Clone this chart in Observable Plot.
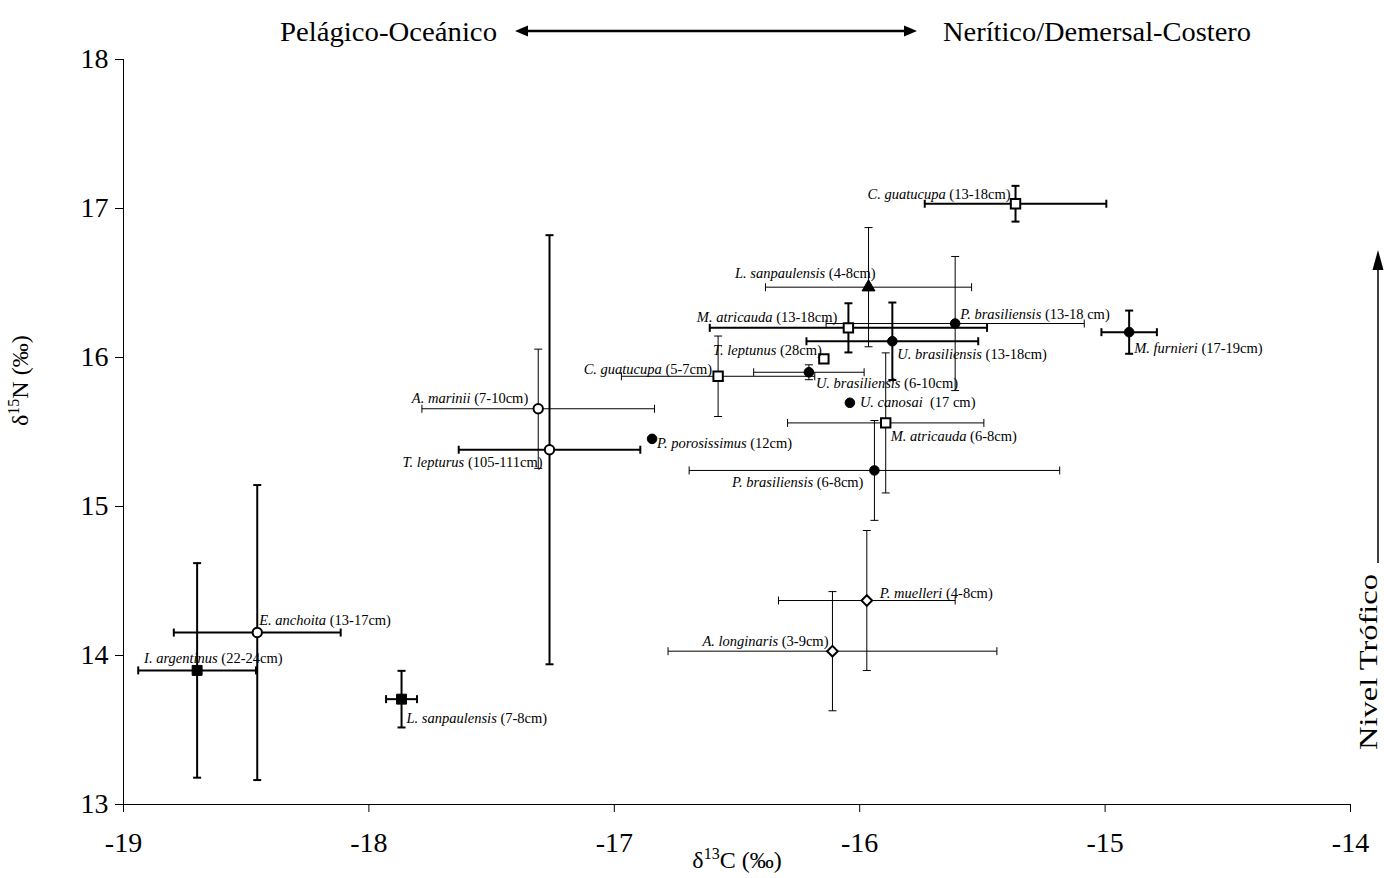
<!DOCTYPE html>
<html><head><meta charset="utf-8">
<script src="https://cdn.jsdelivr.net/npm/d3@7"></script>
<script src="https://cdn.jsdelivr.net/npm/@observablehq/plot@0.6"></script>
<style>
html,body{margin:0;padding:0;background:#fff;}
#wrap{position:relative;width:1384px;height:878px;overflow:hidden;font-family:"Liberation Serif","Times New Roman",serif;}
#wrap svg{position:absolute;left:0;top:0;}
</style></head><body><div id="wrap"></div>
<script>
// ---------------- DATA ----------------
const species = ["I. argentinus","E. anchoita","L. sanpaulensis","A. marinii","T. lepturus","P. porosissimus","C. guatucupa","U. brasiliensis","T. leptunus","U. canosai ","M. atricauda","P. brasiliensis","P. muelleri","A. longinaris","L. sanpaulensis","M. atricauda","U. brasiliensis","P. brasiliensis","C. guatucupa","M. furnieri"];
const sizeClass = ["(22-24cm)","(13-17cm)","(7-8cm)","(7-10cm)","(105-111cm)","(12cm)","(5-7cm)","(6-10cm)","(28cm)","(17 cm)","(6-8cm)","(6-8cm)","(4-8cm)","(3-9cm)","(4-8cm)","(13-18cm)","(13-18cm)","(13-18 cm)","(13-18cm)","(17-19cm)"];
const d13C = [-18.70,-18.455,-17.867,-17.31,-17.264,-16.846,-16.577,-16.207,-16.146,-16.04,-15.894,-15.94,-15.971,-16.111,-15.964,-16.046,-15.867,-15.611,-15.365,-14.902];
const d15N = [13.90,14.154,13.707,15.656,15.381,15.454,15.874,15.901,15.991,15.696,15.561,15.242,14.369,14.029,16.472,16.199,16.109,16.228,17.032,16.17];
const sd13C = [0.24,0.34,0.063,0.474,0.37,null,0.394,0.225,null,null,0.40,0.755,0.36,0.67,0.42,0.565,0.35,0.526,0.37,0.113];
const sd15N = [0.72,0.99,0.19,0.40,1.44,null,0.27,0.05,null,null,0.47,0.335,0.47,0.40,0.40,0.165,0.26,0.45,0.12,0.145];
const markerKind = ["square-filled","circle-open","square-filled","circle-open","circle-open","circle-filled","square-open","circle-filled","square-open","circle-filled","square-open","circle-filled","diamond-open","diamond-open","triangle-filled","square-open","circle-filled","circle-filled","square-open","circle-filled"];
const xTicks = [-19,-18,-17,-16,-15,-14];
const yTicks = [13,14,15,16,17,18];
const xTitle = "δ13C (‰)";
const yTitle = "δ15N (‰)";
const headerLeft = "Pelágico-Oceánico";
const headerRight = "Nerítico/Demersal-Costero";
const sideTitle = "Nivel Trófico";

// ---------------- LAYOUT / STYLE ----------------
const boldBars = new Set([0,1,2,4,15,16,18,19]);
const labelLayout = [
  ["start",-53,-12],["start",2,-12],["start",5,19],["end",-10,-10],["end",-7,13],
  ["start",5,5],["end",-6,-7],["start",7,11],["end",-2,-8],["start",10,0],
  ["start",5,13],["end",-11,12],["start",13,-7],["end",-4,-10],["end",7,-14],
  ["end",-11,-10],["start",5,13],["start",5,-9],["end",-5,-9],["start",5,16]
];
const kindStyle = {
  "square-filled":  {symbol:"square",  fill:"black", stroke:"black", strokeWidth:1, r:5.6},
  "square-open":    {symbol:"square",  fill:"white", stroke:"black", strokeWidth:2, r:5.3},
  "circle-filled":  {symbol:"circle",  fill:"black", stroke:"black", strokeWidth:1, r:4.8},
  "circle-open":    {symbol:"circle",  fill:"white", stroke:"black", strokeWidth:2, r:4.7},
  "triangle-filled":{symbol:"triangle",fill:"black", stroke:"black", strokeWidth:1, r:4.8},
  "diamond-open":   {symbol:"diamond2",fill:"white", stroke:"black", strokeWidth:2, r:4.8}
};
const capH = {draw(ctx){ ctx.moveTo(-4,0); ctx.lineTo(4,0); }};
const capV = {draw(ctx){ ctx.moveTo(0,-4); ctx.lineTo(0,4); }};

const rows = species.map((s,i)=>({i, name:s, size:sizeClass[i], x:d13C[i], y:d15N[i], sx:sd13C[i], sy:sd15N[i], kind:markerKind[i]}));
const withErr = rows.filter(d=>d.sx!=null);

const marks = [];
// axis lines
marks.push(Plot.ruleX([xTicks[0]], {stroke:"black", strokeWidth:1}));
marks.push(Plot.ruleY([yTicks[0]], {stroke:"black", strokeWidth:1}));
// error bars
for (const bold of [false,true]) {
  const sub = withErr.filter(d=>boldBars.has(d.i)===bold);
  const sw = bold ? 2 : 1;
  marks.push(Plot.link(sub, {x1:d=>d.x-d.sx, x2:d=>d.x+d.sx, y1:"y", y2:"y", stroke:"black", strokeWidth:sw}));
  marks.push(Plot.link(sub, {x1:"x", x2:"x", y1:d=>d.y-d.sy, y2:d=>d.y+d.sy, stroke:"black", strokeWidth:sw}));
  marks.push(Plot.dot(sub, {x:d=>d.x-d.sx, y:"y", symbol:capV, fill:"none", stroke:"black", strokeWidth:sw, r:3}));
  marks.push(Plot.dot(sub, {x:d=>d.x+d.sx, y:"y", symbol:capV, fill:"none", stroke:"black", strokeWidth:sw, r:3}));
  marks.push(Plot.dot(sub, {x:"x", y:d=>d.y-d.sy, symbol:capH, fill:"none", stroke:"black", strokeWidth:sw, r:3}));
  marks.push(Plot.dot(sub, {x:"x", y:d=>d.y+d.sy, symbol:capH, fill:"none", stroke:"black", strokeWidth:sw, r:3}));
}
// markers
for (const k of Object.keys(kindStyle)) {
  const st = kindStyle[k];
  marks.push(Plot.dot(rows.filter(d=>d.kind===k), {x:"x", y:"y", ...st}));
}
// labels
rows.forEach(d=>{
  const [anchor,dx,dy] = labelLayout[d.i];
  marks.push(Plot.text([d], {x:"x", y:"y", text:t=>t.name+" "+t.size, textAnchor:anchor, dx, dy, fontSize:14.5, fill:"black"}));
});
// axis titles
marks.push(Plot.text([xTitle], {frameAnchor:"bottom", dy:63, fontSize:24, fill:"black"}));
marks.push(Plot.text([yTitle], {frameAnchor:"left", dx:-103, dy:-6, rotate:-90, fontSize:24, fill:"black"}));

const chart = Plot.plot({
  width:1384, height:878,
  marginLeft:123, marginRight:34, marginTop:59, marginBottom:74,
  style:{fontFamily:"'Liberation Serif', 'Times New Roman', serif", fontSize:"28px", color:"black", background:"white"},
  x:{domain:[xTicks[0], xTicks[xTicks.length-1]], ticks:xTicks, tickFormat:d=>String(d), tickSize:8, tickPadding:20, label:null},
  y:{domain:[yTicks[0], yTicks[yTicks.length-1]], ticks:yTicks, tickFormat:d=>String(d), tickSize:8, tickPadding:7, label:null},
  marks
});
document.getElementById("wrap").appendChild(chart);

// rich text: italic species names, superscripts in axis titles
const labelSet = new Set(rows.map(d=>d.name+" "+d.size));
d3.select(chart).selectAll("text").each(function(){
  const el = d3.select(this);
  const txt = this.textContent;
  if (labelSet.has(txt)) {
    const k = txt.indexOf("(");
    el.text(null).style("white-space","pre");
    el.append("tspan").attr("font-style","italic").text(txt.slice(0,k));
    el.append("tspan").text(txt.slice(k));
  } else if (txt===xTitle || txt===yTitle) {
    el.text(null);
    el.append("tspan").text(txt.slice(0,1));
    el.append("tspan").attr("font-size","16px").attr("dy","-9").text(txt.slice(1,3));
    el.append("tspan").attr("dy","9").text(txt.slice(3));
  }
});

// header & side annotation (decorations)
const ov = d3.select("#wrap").append("svg").attr("width",1384).attr("height",878)
  .style("pointer-events","none").attr("font-family","'Liberation Serif', 'Times New Roman', serif");
ov.append("text").attr("x",280).attr("y",41).attr("font-size",28).attr("textLength",217).attr("lengthAdjust","spacingAndGlyphs").text(headerLeft);
ov.append("text").attr("x",943).attr("y",41).attr("font-size",28).attr("textLength",308).attr("lengthAdjust","spacingAndGlyphs").text(headerRight);
ov.append("line").attr("x1",524).attr("x2",908).attr("y1",31).attr("y2",31).attr("stroke","black").attr("stroke-width",2.5);
ov.append("path").attr("d","M515,31L528,25.5L528,36.5Z").attr("fill","black");
ov.append("path").attr("d","M917,31L904,25.5L904,36.5Z").attr("fill","black");
ov.append("text").attr("transform","translate(1377,662) rotate(-90)").attr("text-anchor","middle").attr("font-size",26).attr("textLength",176).attr("lengthAdjust","spacingAndGlyphs").text(sideTitle);
ov.append("line").attr("x1",1378).attr("x2",1378).attr("y1",563).attr("y2",266).attr("stroke","black").attr("stroke-width",1.5);
ov.append("path").attr("d","M1378,250L1372.5,270L1383.5,270Z").attr("fill","black");
</script></body></html>
